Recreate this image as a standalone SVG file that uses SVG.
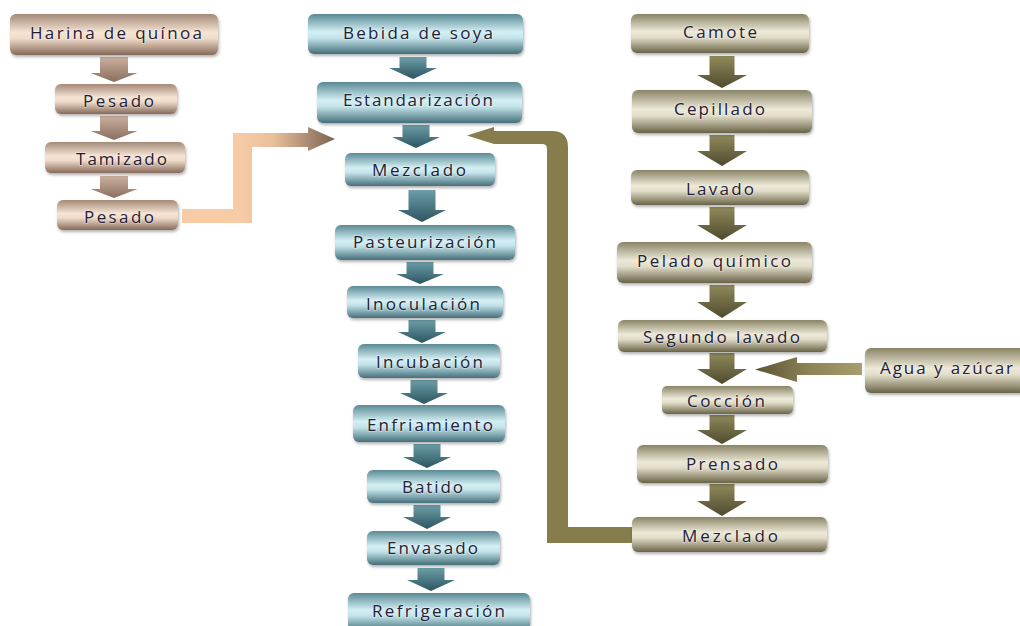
<svg xmlns="http://www.w3.org/2000/svg" width="1020" height="626" viewBox="0 0 1020 626">
<defs>
<linearGradient id="gTan" x1="0" y1="0" x2="0" y2="1">
<stop offset="0" stop-color="#a48977"/><stop offset="0.45" stop-color="#f6e4d4"/><stop offset="0.6" stop-color="#efdac8"/><stop offset="1" stop-color="#86695a"/>
</linearGradient>
<linearGradient id="gTeal" x1="0" y1="0" x2="0" y2="1">
<stop offset="0" stop-color="#5a8a94"/><stop offset="0.45" stop-color="#d3eff4"/><stop offset="0.6" stop-color="#c4e4ea"/><stop offset="1" stop-color="#436f7a"/>
</linearGradient>
<linearGradient id="gOlive" x1="0" y1="0" x2="0" y2="1">
<stop offset="0" stop-color="#8a8466"/><stop offset="0.45" stop-color="#ede9d8"/><stop offset="0.6" stop-color="#e2ddc8"/><stop offset="1" stop-color="#696347"/>
</linearGradient>
<linearGradient id="aTan" x1="0" y1="0" x2="0" y2="1">
<stop offset="0" stop-color="#cbb09f"/><stop offset="1" stop-color="#8a6e5e"/>
</linearGradient>
<linearGradient id="aTeal" x1="0" y1="0" x2="0" y2="1">
<stop offset="0" stop-color="#6c9ea8"/><stop offset="1" stop-color="#2c5560"/>
</linearGradient>
<linearGradient id="aOlive" x1="0" y1="0" x2="0" y2="1">
<stop offset="0" stop-color="#918a5c"/><stop offset="1" stop-color="#4e4a2e"/>
</linearGradient>
<linearGradient id="cPeach" gradientUnits="userSpaceOnUse" x1="240" y1="0" x2="335" y2="0">
<stop offset="0" stop-color="#f7cba6"/><stop offset="0.35" stop-color="#e9bf9c"/><stop offset="1" stop-color="#7b6250"/>
</linearGradient>
<linearGradient id="cAgua" gradientUnits="userSpaceOnUse" x1="862" y1="0" x2="755" y2="0">
<stop offset="0" stop-color="#a89d6c"/><stop offset="0.5" stop-color="#8c8256"/><stop offset="1" stop-color="#5b5434"/>
</linearGradient>
<filter id="sh" x="-10%" y="-20%" width="120%" height="150%">
<feDropShadow dx="1" dy="2" stdDeviation="1.5" flood-color="#000" flood-opacity="0.3"/>
</filter>
</defs>
<style>
.n{stroke:none;filter:url(#sh)}
.tan{fill:url(#gTan)}
.teal{fill:url(#gTeal)}
.olive{fill:url(#gOlive)}
text{font-family:"Open Sans","Noto Sans","Liberation Sans",sans-serif;font-size:17px;fill:#232036;stroke:rgba(255,255,255,0.3);stroke-width:2px;paint-order:stroke;}
</style>
<g id="connectors">
<path d="M100,57H128V73H137.5L114,82L90.5,73H100Z" fill="url(#aTan)"/>
<path d="M100,116H128V131H137.5L114,140L90.5,131H100Z" fill="url(#aTan)"/>
<path d="M100,176H128V189H137.5L114,198L90.5,189H100Z" fill="url(#aTan)"/>
<path d="M399.5,57H426.5V68H437L413,79L389,68H399.5Z" fill="url(#aTeal)"/>
<path d="M402.5,125H429.5V137H440L416,148L392,137H402.5Z" fill="url(#aTeal)"/>
<path d="M408.5,190H435.5V210H446L422,222L398,210H408.5Z" fill="url(#aTeal)"/>
<path d="M406.5,262H433.5V274H444L420,284L396,274H406.5Z" fill="url(#aTeal)"/>
<path d="M408.5,320H435.5V332H446L422,343L398,332H408.5Z" fill="url(#aTeal)"/>
<path d="M410.5,380H437.5V393H448L424,404L400,393H410.5Z" fill="url(#aTeal)"/>
<path d="M413.5,444H440.5V457H451L427,468L403,457H413.5Z" fill="url(#aTeal)"/>
<path d="M413.5,505H440.5V517H451L427,529L403,517H413.5Z" fill="url(#aTeal)"/>
<path d="M417.5,568H444.5V580H455L431,591L407,580H417.5Z" fill="url(#aTeal)"/>
<path d="M709.5,56H734.5V75H747L722,88L697,75H709.5Z" fill="url(#aOlive)"/>
<path d="M709.5,135H734.5V151H747L722,166L697,151H709.5Z" fill="url(#aOlive)"/>
<path d="M709.5,207H734.5V225H747L722,240L697,225H709.5Z" fill="url(#aOlive)"/>
<path d="M709.5,285H734.5V302H747L722,318L697,302H709.5Z" fill="url(#aOlive)"/>
<path d="M709.5,353H734.5V369H747L722,384L697,369H709.5Z" fill="url(#aOlive)"/>
<path d="M709.5,415H734.5V430H747L722,444L697,430H709.5Z" fill="url(#aOlive)"/>
<path d="M709.5,484H734.5V501H747L722,516L697,501H709.5Z" fill="url(#aOlive)"/>
<path d="M182,209H233V133H308V127L335,139L308,151V147H252V223H182Z" fill="url(#cPeach)"/>
<path d="M467,135.5L494,127V131H552Q568,131 568,147V527H632V543H547V149Q547,144 542,144H494Z" fill="#877c4c"/>
<path d="M862,363V375H797V382L755,369.5L797,357V363Z" fill="url(#cAgua)"/>
</g>
<g id="harina"><rect class="n tan" x="10" y="14" width="208" height="41" rx="6"/><text x="30" y="39" textLength="172" lengthAdjust="spacing">Harina de quínoa</text></g>
<g id="pesado1"><rect class="n tan" x="55" y="84" width="122" height="30" rx="6"/><text x="83" y="107" textLength="71" lengthAdjust="spacing">Pesado</text></g>
<g id="tamizado"><rect class="n tan" x="45" y="142" width="140" height="31" rx="6"/><text x="76" y="165" textLength="91" lengthAdjust="spacing">Tamizado</text></g>
<g id="pesado2"><rect class="n tan" x="57" y="200" width="121" height="30" rx="6"/><text x="84" y="223" textLength="70" lengthAdjust="spacing">Pesado</text></g>
<g id="bebida"><rect class="n teal" x="308" y="14" width="215" height="40" rx="6"/><text x="343" y="39" textLength="150" lengthAdjust="spacing">Bebida de soya</text></g>
<g id="estandarizacion"><rect class="n teal" x="317" y="82" width="205" height="41" rx="6"/><text x="343" y="106" textLength="150" lengthAdjust="spacing">Estandarización</text></g>
<g id="mezclado1"><rect class="n teal" x="345" y="153" width="150" height="33" rx="6"/><text x="372" y="176" textLength="94" lengthAdjust="spacing">Mezclado</text></g>
<g id="pasteurizacion"><rect class="n teal" x="335" y="225" width="180" height="35" rx="6"/><text x="353" y="248" textLength="143" lengthAdjust="spacing">Pasteurización</text></g>
<g id="inoculacion"><rect class="n teal" x="347" y="286" width="156" height="32" rx="6"/><text x="366" y="310" textLength="114" lengthAdjust="spacing">Inoculación</text></g>
<g id="incubacion"><rect class="n teal" x="358" y="344" width="142" height="34" rx="6"/><text x="376" y="368" textLength="107" lengthAdjust="spacing">Incubación</text></g>
<g id="enfriamiento"><rect class="n teal" x="353" y="405" width="152" height="37" rx="6"/><text x="367" y="431" textLength="126" lengthAdjust="spacing">Enfriamiento</text></g>
<g id="batido"><rect class="n teal" x="367" y="470" width="133" height="33" rx="6"/><text x="402" y="493" textLength="61" lengthAdjust="spacing">Batido</text></g>
<g id="envasado"><rect class="n teal" x="367" y="531" width="133" height="34" rx="6"/><text x="387" y="554" textLength="91" lengthAdjust="spacing">Envasado</text></g>
<g id="refrigeracion"><rect class="n teal" x="348" y="593" width="182" height="38" rx="6"/><text x="372" y="617" textLength="133" lengthAdjust="spacing">Refrigeración</text></g>
<g id="camote"><rect class="n olive" x="631" y="14" width="178" height="39" rx="6"/><text x="683" y="38" textLength="74" lengthAdjust="spacing">Camote</text></g>
<g id="cepillado"><rect class="n olive" x="632" y="90" width="180" height="43" rx="6"/><text x="674" y="115" textLength="91" lengthAdjust="spacing">Cepillado</text></g>
<g id="lavado"><rect class="n olive" x="631" y="170" width="178" height="35" rx="6"/><text x="686" y="195" textLength="68" lengthAdjust="spacing">Lavado</text></g>
<g id="pelado"><rect class="n olive" x="617" y="242" width="195" height="41" rx="6"/><text x="637" y="267" textLength="154" lengthAdjust="spacing">Pelado químico</text></g>
<g id="segundo"><rect class="n olive" x="618" y="320" width="209" height="32" rx="6"/><text x="643" y="343" textLength="157" lengthAdjust="spacing">Segundo lavado</text></g>
<g id="coccion"><rect class="n olive" x="662" y="386" width="131" height="28" rx="5"/><text x="687" y="407" textLength="78" lengthAdjust="spacing">Cocción</text></g>
<g id="prensado"><rect class="n olive" x="637" y="445" width="191" height="38" rx="6"/><text x="686" y="470" textLength="92" lengthAdjust="spacing">Prensado</text></g>
<g id="mezclado2"><rect class="n olive" x="632" y="517" width="195" height="35" rx="6"/><text x="682" y="542" textLength="96" lengthAdjust="spacing">Mezclado</text></g>
<g id="agua"><rect class="n olive" x="865" y="348" width="170" height="45" rx="6"/><text x="880" y="374" textLength="133" lengthAdjust="spacing">Agua y azúcar</text></g>
</svg>
